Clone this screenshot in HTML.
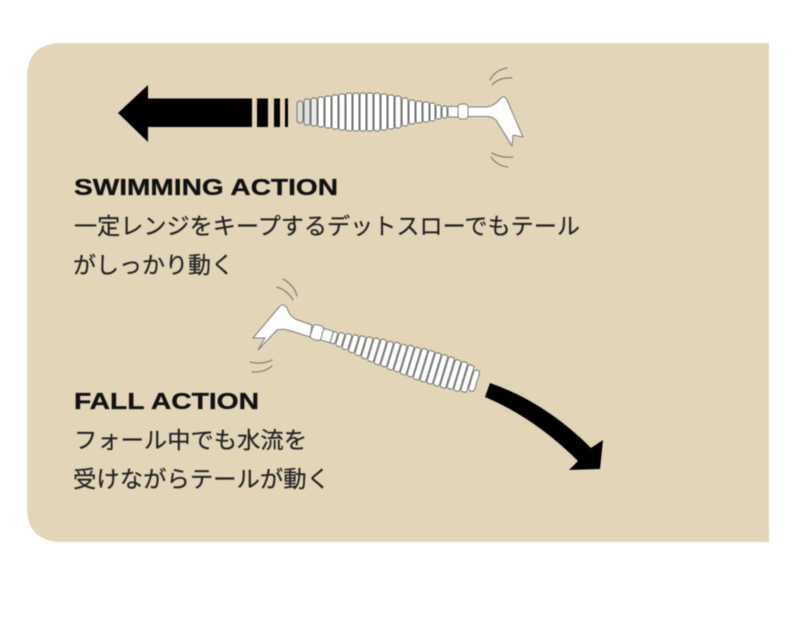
<!DOCTYPE html>
<html lang="ja">
<head>
<meta charset="utf-8">
<title>Swimming and Fall Action</title>
<style>
html,body{margin:0;padding:0;background:#fff;width:800px;height:640px;overflow:hidden}
svg{display:block;filter:blur(.55px)}
.h{font-family:"Liberation Sans",sans-serif;font-weight:700;font-size:23px;fill:#111;stroke:#111;stroke-width:.3}
.j{font-family:"Liberation Sans","Noto Sans CJK JP",sans-serif;font-size:23px;fill:#222;stroke:#222;stroke-width:.2}
.r rect{fill:#fff;stroke:#6f6f6b;stroke-width:1}
.w{fill:none;stroke:#77756d;stroke-width:1.1;stroke-linecap:round}
.t{fill:#fff;stroke:#7c7c78;stroke-width:1;stroke-linejoin:round}
</style>
</head>
<body>
<svg width="800" height="640" viewBox="0 0 800 640" xmlns="http://www.w3.org/2000/svg">
<path d="M769 43H62Q27 43 27 78V507Q27 542 62 542H769Z" fill="#e3d5b8"/>

<!-- straight arrow -->
<path d="M118 113L148 85V98.500H252V127H148V142Z" fill="#000"/>
<rect x="257" y="98.500" width="11" height="28.500" fill="#000"/>
<rect x="274" y="98.500" width="6" height="28.500" fill="#000"/>
<rect x="285" y="98.500" width="3" height="28.500" fill="#000"/>

<!-- top worm -->
<path d="M300 102Q360 88 440 106L462 108V116L440 118Q360 136 300 122Q292 112 300 102Z" fill="#f4f4f2"/>
<g class="r">
<rect x="297" y="101" width="6" height="22" rx="3" style="fill:#dcdcda"/>
<rect x="304" y="99" width="6" height="26" rx="2" style="fill:#e2e2e0"/>
<rect x="311" y="98" width="6" height="28" rx="2" style="fill:#ececea"/>
<rect x="318" y="97" width="6" height="30" rx="2"/>
<rect x="325" y="96" width="6" height="32" rx="2"/>
<rect x="332" y="95" width="6" height="34" rx="2"/>
<rect x="339" y="94" width="6" height="36" rx="2"/>
<rect x="346" y="93" width="6" height="38" rx="2"/>
<rect x="353" y="93" width="6" height="38" rx="2"/>
<rect x="360" y="93" width="6" height="38" rx="2"/>
<rect x="367" y="93" width="6" height="38" rx="2"/>
<rect x="374" y="93" width="6" height="38" rx="2"/>
<rect x="381" y="94" width="6" height="36" rx="2"/>
<rect x="388" y="95" width="6" height="34" rx="2"/>
<rect x="395" y="96" width="6" height="32" rx="2"/>
<rect x="402" y="98" width="6" height="28" rx="2"/>
<rect x="409" y="100" width="6" height="24" rx="2"/>
<rect x="416" y="101" width="6" height="22" rx="2"/>
<rect x="423" y="102" width="6" height="20" rx="2"/>
<rect x="430" y="103" width="5" height="18" rx="2"/>
<rect x="436" y="105" width="5" height="14" rx="2"/>
<rect x="442" y="106" width="5" height="12" rx="2"/>
</g>
<path class="t" d="M448 106.500H460V117H448Z"/>
<path class="t" d="M467 107H487Q494 106 499 100L502 97Q505 96 507 100L523 137L513 135L512 146L496 120Q492 116.500 487 116.500H467Z"/>
<rect class="t" x="458" y="104" width="10" height="15" rx="3"/>
<path class="w" d="M490 80Q495 70 507 68M492 85Q499 77 512 78M492 153Q500 158 513 157M491 157Q497 166 508 167"/>

<!-- headings & text -->
<text class="h" x="74" y="195" textLength="264" lengthAdjust="spacingAndGlyphs">SWIMMING ACTION</text>
<text class="j" x="74" y="234" textLength="506" lengthAdjust="spacingAndGlyphs">一定レンジをキープするデットスローでもテール</text>
<text class="j" x="73" y="273" textLength="161" lengthAdjust="spacingAndGlyphs">がしっかり動く</text>
<text class="h" x="74" y="409" textLength="185" lengthAdjust="spacingAndGlyphs">FALL ACTION</text>
<text class="j" x="74" y="448" textLength="233" lengthAdjust="spacingAndGlyphs">フォール中でも水流を</text>
<text class="j" x="73" y="487" textLength="257" lengthAdjust="spacingAndGlyphs">受けながらテールが動く</text>

<!-- bottom worm -->
<g transform="translate(477 381.500) rotate(17)">
<path d="M-2 -11Q-60 -16 -154 -6V6Q-60 16 -2 11Z" fill="#f4f4f2"/>
<g class="r">
<rect x="-6" y="-11" width="6" height="22" rx="3"/>
<rect x="-13" y="-14" width="6" height="28" rx="2"/>
<rect x="-20" y="-15" width="6" height="30" rx="2"/>
<rect x="-27" y="-15" width="6" height="30" rx="2"/>
<rect x="-34" y="-16" width="6" height="32" rx="2"/>
<rect x="-41" y="-16" width="6" height="32" rx="2"/>
<rect x="-48" y="-16" width="6" height="32" rx="2"/>
<rect x="-55" y="-16" width="6" height="32" rx="2"/>
<rect x="-62" y="-16" width="6" height="32" rx="2"/>
<rect x="-69" y="-15" width="6" height="30" rx="2"/>
<rect x="-76" y="-15" width="6" height="30" rx="2"/>
<rect x="-83" y="-14" width="6" height="28" rx="2"/>
<rect x="-90" y="-14" width="6" height="28" rx="2"/>
<rect x="-97" y="-13" width="6" height="26" rx="2"/>
<rect x="-104" y="-13" width="6" height="26" rx="2"/>
<rect x="-111" y="-12" width="6" height="24" rx="2"/>
<rect x="-118" y="-11" width="6" height="22" rx="2"/>
<rect x="-125" y="-10" width="6" height="20" rx="2"/>
<rect x="-132" y="-9" width="6" height="18" rx="2"/>
<rect x="-139" y="-8" width="6" height="16" rx="2"/>
<rect x="-146" y="-7" width="6" height="14" rx="2"/>
<rect x="-152" y="-6" width="5" height="12" rx="2"/>
</g>
<rect class="t" x="-163" y="-6" width="11" height="12"/>
</g>
<path class="t" d="M312 325L295 319Q289 315 287 308Q284 303 280 306L253 338L265 338L258 350L277 330Q284 328 291 331L310 337Z"/>
<rect class="t" x="311.500" y="325" width="11" height="15" rx="3" transform="rotate(17 317 332.500)"/>
<path class="w" d="M277 287Q288 291 293 300M283 279Q294 285 297 296M250 362Q262 365 272 360M252 372Q264 373 272 366"/>

<!-- curved arrow -->
<path d="M490 383Q545 402 591 448L603 440L600 469L569 470L578 461Q535 418 485 397Z" fill="#000"/>
</svg>
</body>
</html>
